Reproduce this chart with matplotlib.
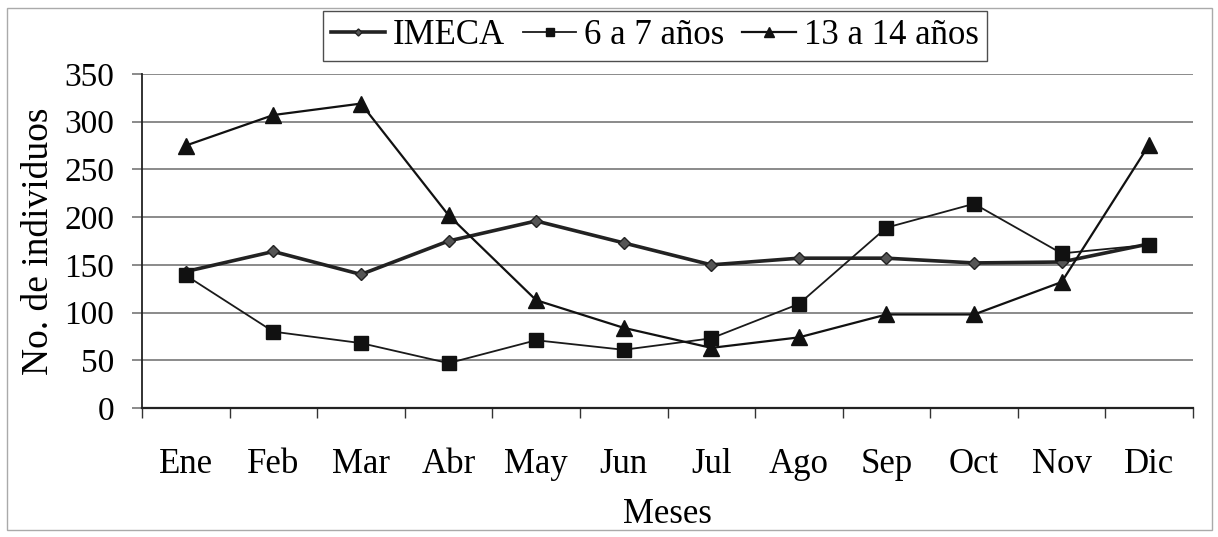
import matplotlib
matplotlib.use("Agg")
import matplotlib.pyplot as plt
from matplotlib.patches import Rectangle
import numpy as np

plt.rcParams['font.family'] = ['Liberation Serif', 'DejaVu Serif']

months = ["Ene", "Feb", "Mar", "Abr", "May", "Jun", "Jul", "Ago", "Sep", "Oct", "Nov", "Dic"]
imeca = [143, 164, 140, 175, 196, 173, 150, 157, 157, 152, 153, 172]
ninos_6_7 = [139, 80, 68, 47, 71, 61, 73, 109, 189, 214, 162, 171]
ninos_13_14 = [275, 307, 319, 202, 113, 84, 63, 74, 98, 98, 132, 276]
yticks = [0, 50, 100, 150, 200, 250, 300, 350]

W, H = 1218, 537
fig = plt.figure(figsize=(W / 100, H / 100), dpi=100)
ax = fig.add_axes([142 / W, 1 - 408 / H, (1193 - 142) / W, (408 - 74) / H])

x = np.arange(len(months))
l1, = ax.plot(x, imeca, color='#222222', lw=2.6, marker='D', ms=6, mfc='#555555', mec='#222222', zorder=3)
l2, = ax.plot(x, ninos_6_7, color='#1a1a1a', lw=1.3, marker='s', ms=10, mfc='#111111', mec='#111111', zorder=4)
l3, = ax.plot(x, ninos_13_14, color='#111111', lw=1.6, marker='^', ms=12, mfc='#111111', mec='#111111', zorder=5)

ax.set_xlim(-0.5, len(months) - 0.5)
ax.set_ylim(0, 350)
ax.set_yticks(yticks)
ax.set_yticklabels([str(v) for v in yticks], fontsize=24)
ax.set_xticks(x)
ax.set_xticklabels(months, fontsize=25)
ax.set_xticks(np.arange(-0.5, len(months), 1.0), minor=True)
ax.tick_params(axis='x', which='major', length=0, pad=29)
ax.tick_params(axis='x', which='minor', length=7, color='#333333', width=1)
ax.tick_params(axis='y', length=7, color='#777777', width=1.2, pad=13)
ax.grid(axis='y', color='#8a8a8a', lw=1.4)
ax.set_axisbelow(True)
for s in ['top', 'right']:
    ax.spines[s].set_visible(False)
ax.spines['left'].set_color('#222222')
ax.spines['bottom'].set_color('#222222')
ax.spines['left'].set_linewidth(1.3)
ax.spines['bottom'].set_linewidth(1.6)
ax.set_xlabel("Meses", fontsize=25, labelpad=12)
ax.set_ylabel("No. de individuos", fontsize=27)
ax.yaxis.set_label_coords(-(142 - 56) / (1193 - 142), 0.5)

leg = fig.legend([l1, l2, l3], ["IMECA", "6 a 7 años", "13 a 14 años"],
                 loc='center', bbox_to_anchor=(655 / W, 1 - 36 / H), ncol=3,
                 fontsize=25, frameon=True, fancybox=False, handlelength=1.55,
                 handletextpad=0.23, columnspacing=0.5, borderpad=0.25,
                 borderaxespad=0, markerscale=0.6)
leg.get_frame().set_edgecolor('#222222')
leg.get_frame().set_linewidth(1.0)

fig.patches.append(Rectangle((7 / W, 1 - 530 / H), (1212 - 7) / W, (530 - 8) / H,
                             transform=fig.transFigure, fill=False,
                             edgecolor='#aaaaaa', lw=1.0))

fig.savefig("out.png", dpi=100)
